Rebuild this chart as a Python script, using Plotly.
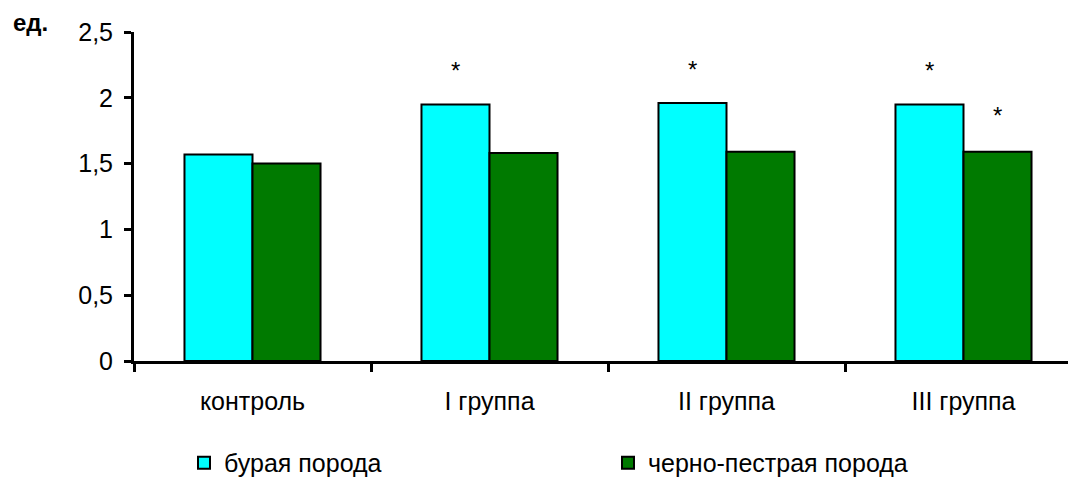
import plotly.graph_objects as go

categories = ["контроль", "I группа", "II группа", "III группа"]
brown_breed = [1.57, 1.95, 1.96, 1.95]
black_white_breed = [1.50, 1.58, 1.59, 1.59]
brown_sig = ["", "*", "*", "*"]
bw_sig = ["", "", "", "*"]
series_names = ["бурая порода", "черно-пестрая порода"]
y_ticks = [0, 0.5, 1, 1.5, 2, 2.5]
y_tick_text = ["0", "0,5", "1", "1,5", "2", "2,5"]

fig = go.Figure()
fig.add_trace(go.Bar(x=categories, y=brown_breed, name=series_names[0],
                     marker=dict(color="#00FFFF", line=dict(color="black", width=2))))
fig.add_trace(go.Bar(x=categories, y=black_white_breed, name=series_names[1],
                     marker=dict(color="#007A00", line=dict(color="black", width=2))))

for c, v, s in zip(categories, brown_breed, brown_sig):
    if s:
        fig.add_annotation(x=c, y=v, text=s, showarrow=False, xshift=-34, yshift=34,
                           font=dict(size=24, color="black", family="Arial"))
for c, v, s in zip(categories, black_white_breed, bw_sig):
    if s:
        fig.add_annotation(x=c, y=v, text=s, showarrow=False, xshift=34, yshift=36,
                           font=dict(size=24, color="black", family="Arial"))

PLOT_W = 1074 - 126
# page has an 8px body margin, so the figure is shifted by 8px right/down
fig.add_annotation(text="<b>ед.</b>", xref="paper", yref="paper", x=-(126 - 3) / PLOT_W, y=1.0,
                   xanchor="left", yanchor="middle", showarrow=False, yshift=10,
                   font=dict(size=24, color="black", family="Arial"))

fig.update_layout(
    width=1074, height=470,
    margin=dict(l=126, r=0, t=24, b=117, autoexpand=False),
    plot_bgcolor="white", paper_bgcolor="white",
    barmode="group", bargap=0.426, bargroupgap=0,
    font=dict(family="Arial", size=25, color="black"),
    showlegend=True,
    legend=dict(orientation="h", x=50 / PLOT_W, y=-0.31, xref="paper", yref="paper",
                xanchor="left", yanchor="middle",
                font=dict(size=25, family="Arial"), itemwidth=30,
                entrywidth=379, entrywidthmode="pixels", traceorder="normal"),
    xaxis=dict(showline=True, linecolor="black", linewidth=3, ticks="outside",
               tickson="boundaries", ticklen=8, tickwidth=3, tickcolor="black",
               tickfont=dict(size=25), showgrid=False, ticklabelstandoff=16),
    yaxis=dict(range=[0, 2.5], tickvals=y_ticks, ticktext=y_tick_text,
               showline=True, linecolor="black", linewidth=3, ticks="outside",
               ticklen=7, tickwidth=3, tickcolor="black", showgrid=False,
               zeroline=False, tickfont=dict(size=25), ticklabelstandoff=6),
)

fig.write_html("out.html")
